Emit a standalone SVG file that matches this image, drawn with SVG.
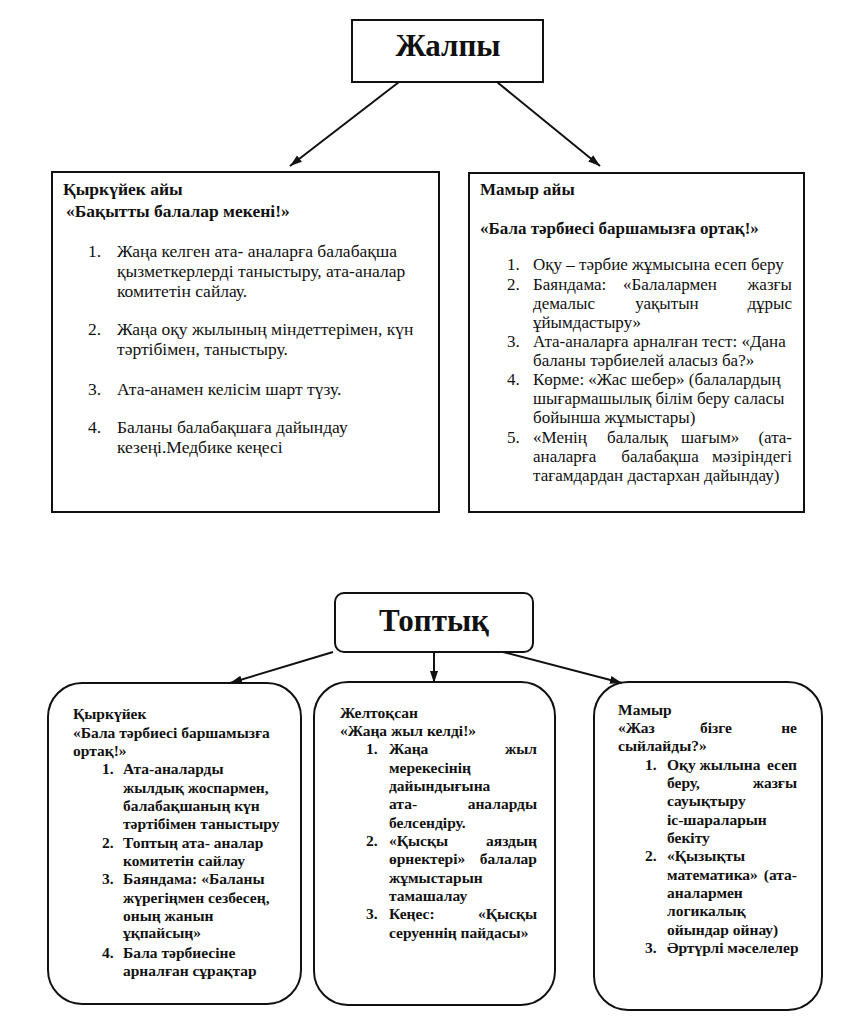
<svg xmlns="http://www.w3.org/2000/svg" width="863" height="1024" viewBox="0 0 863 1024">
<style>
text{font-family:"Liberation Serif","Times New Roman",serif;fill:#111;}
.b{font-weight:bold;}
.t{font-size:17px;}
.tl{font-size:17.5px;}
.s{font-size:15.5px;font-weight:bold;}
.big{font-size:31px;font-weight:bold;}
.box{fill:#fff;stroke:#111;stroke-width:2;}
.e{text-anchor:end;}
.m{text-anchor:middle;}
.con line{stroke:#111;stroke-width:2;}
</style>
<defs>
<marker id="ah" viewBox="0 0 12 10" refX="12" refY="5" markerWidth="12" markerHeight="10" markerUnits="userSpaceOnUse" orient="auto"><path d="M0,1 L12,5 L0,9 z" fill="#111"/></marker>
</defs>
<rect width="863" height="1024" fill="#fff"/>

<g id="zhalpy">
<rect class="box" x="352" y="20" width="191" height="62"/>
<text class="big m" x="448" y="56">Жалпы</text>
</g>

<g id="kyrkuyek-ayy">
<rect class="box" x="52" y="172" width="387" height="340"/>
<text class="tl b" x="63" y="195">Қыркүйек айы</text>
<text class="tl b" x="66" y="217">«Бақытты балалар мекені!»</text>
<text class="tl" x="88" y="257">1.</text>
<text class="tl" x="117" y="257">Жаңа келген ата- аналарға балабақша</text>
<text class="tl" x="117" y="277">қызметкерлерді таныстыру, ата-аналар</text>
<text class="tl" x="117" y="297">комитетін сайлау.</text>
<text class="tl" x="88" y="335">2.</text>
<text class="tl" x="117" y="335">Жаңа оқу жылының міндеттерімен, күн</text>
<text class="tl" x="117" y="355">тәртібімен, таныстыру.</text>
<text class="tl" x="88" y="395">3.</text>
<text class="tl" x="117" y="395">Ата-анамен келісім шарт түзу.</text>
<text class="tl" x="88" y="433">4.</text>
<text class="tl" x="117" y="433">Баланы балабақшаға дайындау</text>
<text class="tl" x="117" y="453">кезеңі.Медбике кеңесі</text>
</g>

<g id="mamyr-ayy">
<rect class="box" x="469" y="173" width="335" height="339"/>
<text class="t b" x="480" y="195">Мамыр айы</text>
<text class="t b" x="480" y="234">«Бала тәрбиесі баршамызға ортақ!»</text>
<text class="t" x="507" y="270">1.</text>
<text class="t" x="533" y="270">Оқу – тәрбие жұмысына есеп беру</text>
<text class="t" x="507" y="290">2.</text>
<text class="t" x="533" y="290">Баяндама:</text>
<text class="t m" x="670" y="290">«Балалармен</text>
<text class="t e" x="792" y="290">жазғы</text>
<text class="t" x="533" y="309">демалыс</text>
<text class="t m" x="667" y="309">уақытын</text>
<text class="t e" x="792" y="309">дұрыс</text>
<text class="t" x="533" y="328">ұйымдастыру»</text>
<text class="t" x="507" y="347">3.</text>
<text class="t" x="533" y="347">Ата-аналарға арналған тест: «Дана</text>
<text class="t" x="533" y="366">баланы тәрбиелей аласыз ба?»</text>
<text class="t" x="507" y="385">4.</text>
<text class="t" x="533" y="385">Көрме:  «Жас шебер» (балалардың</text>
<text class="t" x="533" y="404">шығармашылық білім беру саласы</text>
<text class="t" x="533" y="423">бойынша жұмыстары)</text>
<text class="t" x="507" y="443">5.</text>
<text class="t" x="533" y="443">«Менің</text>
<text class="t" x="607" y="443">балалық</text>
<text class="t" x="681" y="443">шағым»</text>
<text class="t e" x="792" y="443">(ата-</text>
<text class="t" x="533" y="462">аналарға</text>
<text class="t m" x="660" y="462">балабақша</text>
<text class="t e" x="792" y="462">мәзіріндегі</text>
<text class="t" x="533" y="481">тағамдардан дастархан дайындау)</text>
</g>

<g id="toptyk">
<rect class="box" x="335" y="593" width="198" height="59" rx="9"/>
<text class="big m" x="434" y="631">Топтық</text>
</g>

<g id="kyrkuyek">
<rect class="box" x="48" y="683" width="253" height="321" rx="34"/>
<text class="s" x="73" y="719">Қыркүйек</text>
<text class="s" x="73" y="738">«Бала тәрбиесі баршамызға</text>
<text class="s" x="73" y="756">ортақ!»</text>
<text class="s" x="102" y="774">1.</text>
<text class="s" x="123" y="774">Ата-аналарды</text>
<text class="s" x="123" y="793">жылдық жоспармен,</text>
<text class="s" x="123" y="811">балабақшаның күн</text>
<text class="s" x="123" y="829">тәртібімен таныстыру</text>
<text class="s" x="102" y="848">2.</text>
<text class="s" x="123" y="848">Топтың ата- аналар</text>
<text class="s" x="123" y="866">комитетін сайлау</text>
<text class="s" x="102" y="884">3.</text>
<text class="s" x="123" y="884">Баяндама: «Баланы</text>
<text class="s" x="123" y="903">жүрегіңмен сезбесең,</text>
<text class="s" x="123" y="921">оның жанын</text>
<text class="s" x="123" y="938">ұқпайсың»</text>
<text class="s" x="102" y="958">4.</text>
<text class="s" x="123" y="958">Бала тәрбиесіне</text>
<text class="s" x="123" y="976">арналған сұрақтар</text>
</g>

<g id="zheltoksan">
<rect class="box" x="314" y="682" width="241" height="323" rx="34"/>
<text class="s" x="340" y="718">Желтоқсан</text>
<text class="s" x="340" y="736">«Жаңа жыл келді!»</text>
<text class="s" x="366" y="754">1.</text>
<text class="s" x="389" y="754">Жаңа</text>
<text class="s e" x="537" y="754">жыл</text>
<text class="s" x="389" y="773">мерекесінің</text>
<text class="s" x="389" y="791">дайындығына</text>
<text class="s" x="389" y="809">ата-</text>
<text class="s e" x="537" y="809">аналарды</text>
<text class="s" x="389" y="828">белсендіру.</text>
<text class="s" x="366" y="846">2.</text>
<text class="s" x="389" y="846">«Қысқы</text>
<text class="s e" x="537" y="846">аяздың</text>
<text class="s" x="389" y="864">өрнектері»</text>
<text class="s e" x="537" y="864">балалар</text>
<text class="s" x="389" y="883">жұмыстарын</text>
<text class="s" x="389" y="901">тамашалау</text>
<text class="s" x="366" y="919">3.</text>
<text class="s" x="389" y="919">Кеңес:</text>
<text class="s e" x="537" y="919">«Қысқы</text>
<text class="s" x="389" y="938">серуеннің пайдасы»</text>
</g>

<g id="mamyr">
<rect class="box" x="594" y="682" width="228" height="328" rx="34"/>
<text class="s" x="618" y="715">Мамыр</text>
<text class="s" x="618" y="733">«Жаз</text>
<text class="s m" x="716" y="733">бізге</text>
<text class="s e" x="797" y="733">не</text>
<text class="s" x="618" y="751">сыйлайды?»</text>
<text class="s" x="645" y="770">1.</text>
<text class="s" x="667" y="770">Оқу жылына</text>
<text class="s e" x="797" y="770">есеп</text>
<text class="s" x="667" y="788">беру,</text>
<text class="s e" x="797" y="788">жазғы</text>
<text class="s" x="667" y="806">сауықтыру</text>
<text class="s" x="667" y="825">іс-шараларын</text>
<text class="s" x="667" y="843">бекіту</text>
<text class="s" x="645" y="861">2.</text>
<text class="s" x="667" y="861">«Қызықты</text>
<text class="s" x="667" y="880">математика»</text>
<text class="s e" x="797" y="880">(ата-</text>
<text class="s" x="667" y="898">аналармен</text>
<text class="s" x="667" y="916">логикалық</text>
<text class="s" x="667" y="935">ойындар ойнау)</text>
<text class="s" x="645" y="953">3.</text>
<text class="s" x="667" y="953">Әртүрлі мәселелер</text>
</g>

<g class="con" id="connectors">
<line x1="399" y1="82" x2="290" y2="166" marker-end="url(#ah)"/>
<line x1="497" y1="82" x2="600" y2="166" marker-end="url(#ah)"/>
<line x1="333" y1="652" x2="230" y2="683" marker-end="url(#ah)"/>
<line x1="434" y1="652" x2="434" y2="683" marker-end="url(#ah)"/>
<line x1="503" y1="652" x2="622" y2="683" marker-end="url(#ah)"/>
</g>
</svg>
